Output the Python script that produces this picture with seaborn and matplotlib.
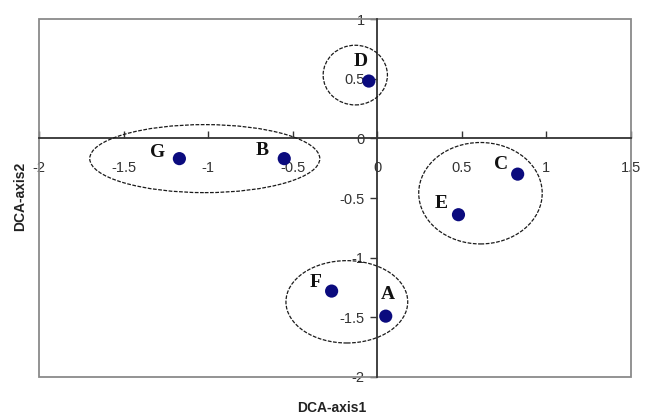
import matplotlib
matplotlib.use("Agg")
import matplotlib.pyplot as plt
from matplotlib.patches import Ellipse, Rectangle
import pandas as pd
import seaborn as sns

# site scores on the first two DCA axes
sites = ["A", "B", "C", "D", "E", "F", "G"]
axis1 = [0.05, -0.55, 0.83, -0.05, 0.48, -0.27, -1.17]
axis2 = [-1.49, -0.17, -0.30, 0.48, -0.64, -1.28, -0.17]

# groups circled on the ordination plot: centre x, centre y, width, height
group_x = [-1.02, -0.13, 0.61, -0.18]
group_y = [-0.17, 0.53, -0.46, -1.37]
group_w = [1.36, 0.38, 0.73, 0.72]
group_h = [0.57, 0.50, 0.85, 0.69]

xticks = [-2, -1.5, -1, -0.5, 0, 0.5, 1, 1.5]
yticks = [-2, -1.5, -1, -0.5, 0, 0.5, 1]

df = pd.DataFrame({"site": sites, "DCA1": axis1, "DCA2": axis2})

sns.set_style("white")
plt.rcParams["font.family"] = ["Liberation Sans", "DejaVu Sans"]

fig = plt.figure(figsize=(6.46, 4.16), dpi=100)
ax = fig.add_axes([39 / 646, 1 - 377 / 416, 592 / 646, 358 / 416])

sns.scatterplot(data=df, x="DCA1", y="DCA2", color="#0b0b7e", s=90,
                edgecolor="none", ax=ax, zorder=4)

# label offsets in pixels, label placed up-left of each point
offsets = {"A": (2, 22), "B": (-22, 8), "C": (-17, 10), "D": (-8, 20),
           "E": (-17, 11), "F": (-16, 9), "G": (-22, 6)}
for s, x, y in zip(sites, axis1, axis2):
    ax.annotate(s, (x, y), xytext=offsets[s], textcoords="offset pixels",
                ha="center", va="center", fontsize=14, fontweight="bold",
                family=["Liberation Serif", "DejaVu Serif"], color="#111111")

for cx, cy, w, h in zip(group_x, group_y, group_w, group_h):
    ax.add_patch(Ellipse((cx, cy), w, h, fill=False, edgecolor="#1a1a1a",
                         linewidth=0.9, linestyle=(0, (3, 1.2)), zorder=3))

ax.set_xlim(-2, 1.5)
ax.set_ylim(-2, 1)
ax.set_xticks(xticks)
ax.set_yticks(yticks)
ax.set_xticklabels([f"{t:g}" for t in xticks])
ax.set_yticklabels([f"{t:g}" for t in yticks])

# Excel style: axes cross at the origin, grey box around the plot area
ax.spines["left"].set_position(("data", 0))
ax.spines["bottom"].set_position(("data", 0))
ax.spines["top"].set_visible(False)
ax.spines["right"].set_visible(False)
for side in ["left", "bottom"]:
    ax.spines[side].set_color("#333333")
    ax.spines[side].set_linewidth(1.3)
ax.add_patch(Rectangle((0, 0), 1, 1, transform=ax.transAxes, fill=False,
                       edgecolor="#8a8a8a", linewidth=1.3, clip_on=False, zorder=1))

ax.tick_params(axis="x", direction="in", length=5, width=1, color="#333333",
               pad=16, labelsize=10.5, labelcolor="#333333", bottom=True)
ax.tick_params(axis="y", direction="out", length=5, width=1, color="#333333",
               pad=4, labelsize=10.5, labelcolor="#333333", left=True)
ax.set_xlabel("")
ax.set_ylabel("")

fig.text(332 / 646, 1 - 408 / 416, "DCA-axis1", ha="center", va="center",
         fontsize=10, fontweight="bold", color="#222222")
fig.text(20 / 646, 1 - 196 / 416, "DCA-axis2", ha="center", va="center",
         rotation=90, fontsize=10, fontweight="bold", color="#222222")

plt.savefig("out.png", dpi=100)
